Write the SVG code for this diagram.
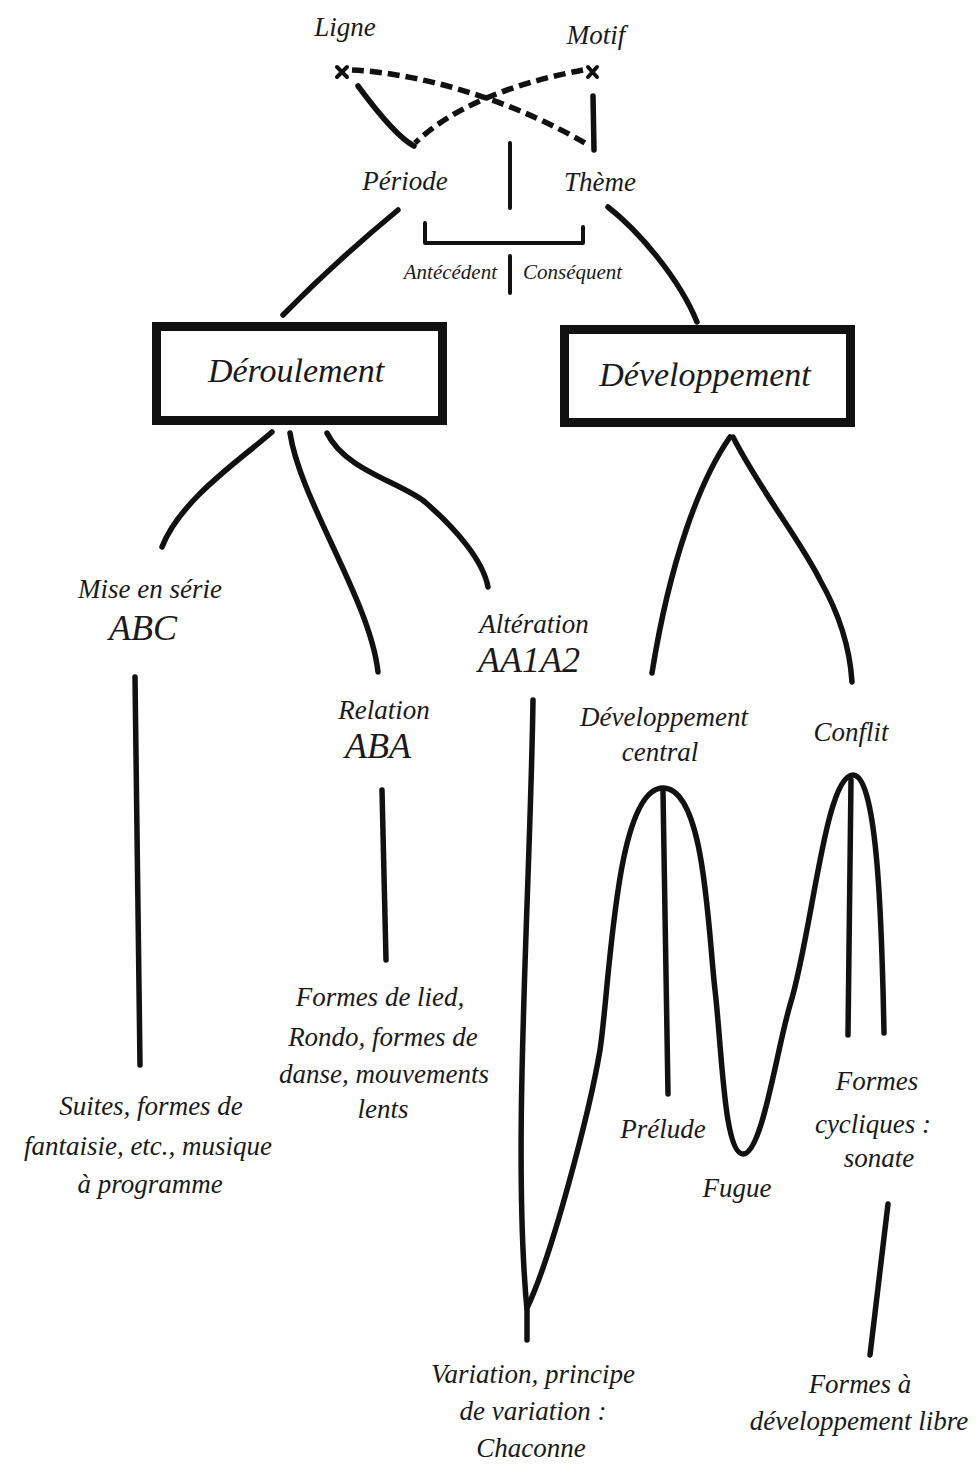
<svg xmlns="http://www.w3.org/2000/svg" width="977" height="1465" viewBox="0 0 977 1465">
<style>
.t{font-family:"Liberation Serif","DejaVu Serif",serif;font-style:italic;fill:#1a1a1a;text-anchor:middle;font-size:27px}
.s{font-size:21px}
.b{font-size:34px}
.c{font-size:36px}
.ln{fill:none;stroke:#111;stroke-width:5.5;stroke-linecap:round;stroke-linejoin:round}
.d{stroke-dasharray:12 6;stroke-linecap:butt}
.thin{stroke-width:4}
.box{fill:#fff;stroke:#111;stroke-width:9}
</style>
<rect width="977" height="1465" fill="#fff"/>
<g id="connectors">
<path class="ln d" d="M352,70 C430,74 520,105 585,143"/>
<path class="ln d" d="M583,70 C530,80 460,100 415,143"/>
<path class="ln" d="M358,86 Q395,136 414,146"/>
<path class="ln" d="M593,96 L594,150"/>
<path class="ln thin" d="M510,143 L510,208"/>
<path class="ln thin" d="M425,223 L425,243 L583,243 L583,227"/>
<path class="ln thin" d="M510,256 L510,293"/>
<path class="ln" d="M398,210 Q335,262 283,315"/>
<path class="ln" d="M608,207 C640,232 680,280 697,322"/>
<path class="ln" d="M272,432 C240,460 180,500 162,547"/>
<path class="ln" d="M290,433 C300,500 370,600 378,672"/>
<path class="ln" d="M327,433 C345,470 400,482 425,502 C455,528 483,560 488,587"/>
<path class="ln" d="M730,437 C700,480 670,560 652,673"/>
<path class="ln" d="M733,437 C760,490 800,540 820,580 C840,615 850,650 852,682"/>
<path class="ln" d="M135,677 L140,1065"/>
<path class="ln" d="M382,790 L386,960"/>
<path class="ln" d="M533,700 C530,900 512,1150 527,1310 L527,1340"/>
<path class="ln" d="M527,1308 C552,1256 590,1110 600,1050 C610,985 615,788 663,788 C705,788 708,930 715,990 C722,1050 724,1154 743,1154 C762,1154 776,1053 790,1005 C812,935 825,775 853,775 C878,775 882,930 884,1033"/>
<path class="ln" d="M663,792 L668,1094"/>
<path class="ln" d="M851,780 L848,1035"/>
<path class="ln" d="M888,1204 L870,1355"/>
</g>
<g id="ligne">
<path class="ln thin" d="M337,67 L347,77 M347,67 L337,77"/>
<text class="t" x="345" y="36">Ligne</text>
</g>
<g id="motif">
<path class="ln thin" d="M588,67 L597,77 M597,67 L588,77"/>
<text class="t" x="596" y="44">Motif</text>
</g>
<g id="periode"><text class="t" x="405" y="190">Période</text></g>
<g id="theme"><text class="t" x="600" y="191">Thème</text></g>
<g id="antecedent"><text class="t s" x="497" y="279" style="text-anchor:end">Antécédent</text></g>
<g id="consequent"><text class="t s" x="523" y="279" style="text-anchor:start">Conséquent</text></g>
<g id="deroulement">
<rect class="box" x="156.5" y="326.5" width="286" height="94"/>
<text class="t b" x="296" y="382">Déroulement</text>
</g>
<g id="developpement">
<rect class="box" x="564.5" y="329.5" width="286" height="93"/>
<text class="t b" x="705" y="386">Développement</text>
</g>
<g id="mise-en-serie">
<text class="t" x="150" y="598">Mise en série</text>
<text class="t c" x="143" y="640">ABC</text>
</g>
<g id="relation">
<text class="t" x="384" y="719">Relation</text>
<text class="t c" x="378" y="758">ABA</text>
</g>
<g id="alteration">
<text class="t" x="534" y="633">Altération</text>
<text class="t c" x="529" y="672">AA1A2</text>
</g>
<g id="dev-central">
<text class="t" x="664" y="726">Développement</text>
<text class="t" x="660" y="761">central</text>
</g>
<g id="conflit"><text class="t" x="851" y="741">Conflit</text></g>
<g id="formes-lied">
<text class="t" x="380" y="1006">Formes de lied,</text>
<text class="t" x="383" y="1046">Rondo, formes de</text>
<text class="t" x="384" y="1083">danse, mouvements</text>
<text class="t" x="383" y="1118">lents</text>
</g>
<g id="suites">
<text class="t" x="151" y="1115">Suites, formes de</text>
<text class="t" x="148" y="1155">fantaisie, etc., musique</text>
<text class="t" x="150" y="1193">à programme</text>
</g>
<g id="prelude"><text class="t" x="663" y="1138">Prélude</text></g>
<g id="fugue"><text class="t" x="737" y="1197">Fugue</text></g>
<g id="formes-cycliques">
<text class="t" x="877" y="1090">Formes</text>
<text class="t" x="873" y="1133">cycliques :</text>
<text class="t" x="879" y="1167">sonate</text>
</g>
<g id="variation">
<text class="t" x="533" y="1383">Variation, principe</text>
<text class="t" x="533" y="1420">de variation :</text>
<text class="t" x="531" y="1457">Chaconne</text>
</g>
<g id="formes-libre">
<text class="t" x="860" y="1393">Formes à</text>
<text class="t" x="859" y="1430">développement libre</text>
</g>
</svg>
